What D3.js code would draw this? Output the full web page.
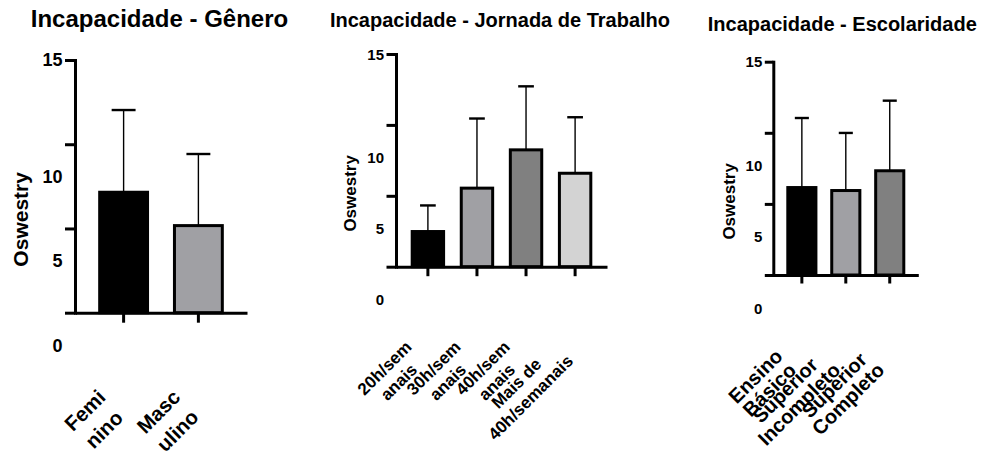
<!DOCTYPE html>
<html>
<head>
<meta charset="utf-8">
<script src="https://cdn.jsdelivr.net/npm/d3@7"></script>
<style>
  html, body { margin: 0; padding: 0; background: #fff; }
  svg { display: block; }
  text { font-family: Arial, "Liberation Sans", Helvetica, sans-serif; font-weight: bold; fill: #000; }
</style>
</head>
<body>
<svg id="chart" width="989" height="459"></svg>
<script>
// ---- data ----
const generoTitle = "Incapacidade - Gênero";
const generoCategories = ["Femi\nnino", "Masc\nulino"];
const generoMeans = [7.15, 5.17];
const generoSD = [4.88, 4.25];
const generoColors = ["#000000", "#a0a0a4"];

const jornadaTitle = "Incapacidade - Jornada de Trabalho";
const jornadaCategories = ["20h/sem\nanais", "30h/sem\nanais", "40h/sem\nanais", "Mais de\n40h/semanais"];
const jornadaMeans = [2.48, 5.54, 8.24, 6.59];
const jornadaSD = [1.84, 4.91, 4.48, 3.95];
const jornadaColors = ["#000000", "#a0a0a4", "#808080", "#d3d3d3"];

const escolaridadeTitle = "Incapacidade - Escolaridade";
const escolaridadeCategories = ["Ensino\nBásico", "Superior\nIncompleto", "Superior\nCompleto"];
const escolaridadeMeans = [6.15, 5.94, 7.33];
const escolaridadeSD = [4.89, 4.05, 4.93];
const escolaridadeColors = ["#000000", "#a0a0a4", "#808080"];

const yTickValues = [0, 5, 10, 15];
const yTickLabels = ["0", "5", "10", "15"];
const yAxisTitle = "Oswestry";

// ---- layout ----
const svg = d3.select("#chart");
const labelShift = 33; // in the original, labels below the top tick sit lower than their ticks

const panels = [
  { title: generoTitle, cats: generoCategories, means: generoMeans, sd: generoSD, colors: generoColors,
    x0: 75, x1: 247, yTop: 60, yBot: 312.7, tick: 10, titleX: 159.5, titleY: 27, titleSize: 24,
    yTitleDx: -54.3, yTitleSize: 21, tickSize: 18, xlSize: 20.5, lh: 27, ax: -12.5, ay: 90 },
  { title: jornadaTitle, cats: jornadaCategories, means: jornadaMeans, sd: jornadaSD, colors: jornadaColors,
    x0: 396, x1: 607, yTop: 54, yBot: 266.7, tick: 9.5, titleX: 500, titleY: 26.7, titleSize: 20,
    yTitleDx: -46, yTitleSize: 17, tickSize: 15, xlSize: 17, lh: 20, ax: -12, ay: 84.5 },
  { title: escolaridadeTitle, cats: escolaridadeCategories, means: escolaridadeMeans, sd: escolaridadeSD, colors: escolaridadeColors,
    x0: 773.3, x1: 918.3, yTop: 61.7, yBot: 275, tick: 8.5, titleX: 842.3, titleY: 31, titleSize: 20,
    yTitleDx: -44, yTitleSize: 17, tickSize: 15, xlSize: 20, lh: 19.5, ax: -16, ay: 84.5 }
];

panels.forEach(p => {
  const g = svg.append("g");
  const x = d3.scaleBand().domain(p.cats).range([p.x0, p.x1]).paddingInner(0.36).paddingOuter(0.33);
  const y = d3.scaleLinear().domain([0, 15]).range([p.yBot, p.yTop]);

  // title
  g.append("text").attr("x", p.titleX).attr("y", p.titleY).attr("text-anchor", "middle")
    .style("font-size", p.titleSize + "px").text(p.title);

  const data = p.cats.map((c, i) => ({ c, m: p.means[i], s: p.sd[i], col: p.colors[i] }));
  const bw = x.bandwidth();

  // error bars (upward only)
  const eb = g.append("g");
  data.forEach(d => {
    const cx = x(d.c) + bw / 2;
    eb.append("line").attr("x1", cx).attr("x2", cx).attr("y1", y(d.m)).attr("y2", y(d.m + d.s))
      .attr("stroke", "#000").attr("stroke-width", 1.4);
    eb.append("line").attr("x1", cx - bw / 4).attr("x2", cx + bw / 4).attr("y1", y(d.m + d.s)).attr("y2", y(d.m + d.s))
      .attr("stroke", "#000").attr("stroke-width", 2.4);
  });

  // bars
  g.selectAll("rect.bar").data(data).enter().append("rect").attr("class", "bar")
    .attr("x", d => x(d.c)).attr("width", bw)
    .attr("y", d => y(d.m)).attr("height", d => y(0) - y(d.m))
    .attr("fill", d => d.col).attr("stroke", "#000").attr("stroke-width", 3);

  // y axis ticks
  const yAxis = d3.axisLeft(y).tickValues(yTickValues).tickSize(p.tick).tickSizeOuter(0).tickFormat("");
  const yg = g.append("g").attr("transform", `translate(${p.x0},0)`).call(yAxis);
  yg.select(".domain").attr("stroke-width", 3).attr("stroke-linecap", "square");
  yg.selectAll(".tick line").attr("stroke-width", 3);

  // x axis
  const xAxis = d3.axisBottom(x).tickSize(p.tick).tickSizeOuter(0).tickFormat("");
  const xg = g.append("g").attr("transform", `translate(0,${p.yBot})`).call(xAxis);
  xg.select(".domain").attr("stroke-width", 3);
  xg.selectAll(".tick line").attr("stroke-width", 3);

  // y tick labels
  yTickValues.forEach((v, i) => {
    const shift = v === 15 ? 0 : labelShift;
    g.append("text").attr("x", p.x0 - p.tick - 2.5).attr("y", y(v) + shift)
      .attr("text-anchor", "end").attr("dominant-baseline", "central")
      .style("font-size", p.tickSize + "px").text(yTickLabels[i]);
  });

  // y axis title
  const yMid = (p.yTop + p.yBot) / 2 + labelShift;
  g.append("text").attr("transform", `translate(${p.x0 + p.yTitleDx},${yMid}) rotate(-90)`)
    .attr("text-anchor", "middle").attr("dominant-baseline", "central")
    .style("font-size", p.yTitleSize + "px").text(yAxisTitle);

  // rotated category labels
  p.cats.forEach(c => {
    const lines = c.split("\n");
    const ax = x(c) + bw / 2 + p.ax;
    const ay = p.yBot + p.ay;
    const lg = g.append("g").attr("transform", `translate(${ax},${ay}) rotate(-45)`);
    const texts = lines.map((ln, i) => lg.append("text")
      .attr("y", (i - (lines.length - 1) / 2) * p.lh)
      .attr("text-anchor", "middle").attr("dominant-baseline", "central")
      .style("font-size", p.xlSize + "px").text(ln));
    const W = d3.max(texts, t => t.node().getComputedTextLength());
    texts.forEach(t => t.attr("x", -W / 2));
  });
});
</script>
</body>
</html>
